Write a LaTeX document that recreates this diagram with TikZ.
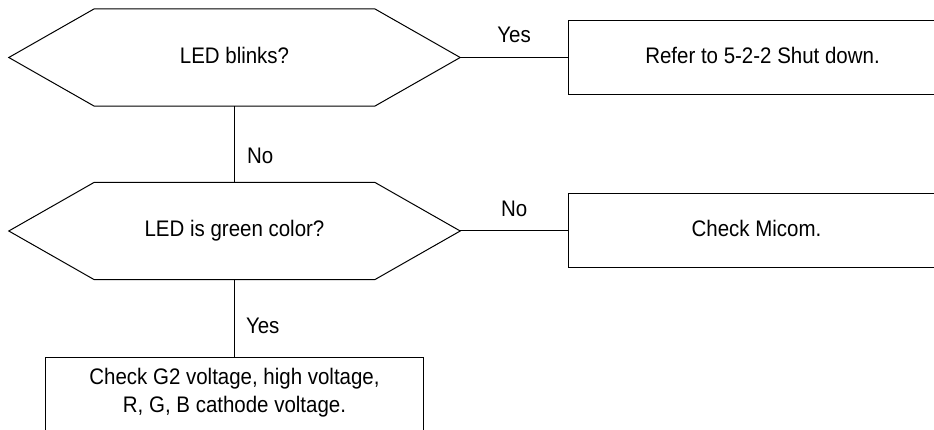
\documentclass[tikz,border=0pt]{standalone}
\usepackage{fontspec}
\setmainfont[FakeStretch=0.91]{Liberation Sans}
\begin{document}
\begin{tikzpicture}[x=1pt,y=-1pt,
  every node/.style={font=\fontsize{22.5}{28}\selectfont},
  ln/.style={line width=1pt, draw=black},
  dec/.style={minimum width=451pt, minimum height=97pt, inner sep=0pt, text height=16pt, text depth=4pt},
  boxn/.style={ln, minimum height=74pt, inner sep=0pt, text height=16pt, text depth=4pt},
  lab/.style={inner sep=0pt, text height=16pt, text depth=4pt}
]
\useasboundingbox (0,0) rectangle (934,430);
\clip (0,0) rectangle (934,430);

\node[dec] (d1) at (234.5,57.5) {LED blinks?};
\node[dec] (d2) at (234.5,231) {LED is green color?};
\foreach \n in {d1,d2}
  \draw[ln] (\n.west) -- ([xshift=85.5pt]\n.north west) -- ([xshift=-85.5pt]\n.north east)
     -- (\n.east) -- ([xshift=-85.5pt]\n.south east) -- ([xshift=85.5pt]\n.south west) -- cycle;

\node[boxn, anchor=west, minimum width=388pt] (b1) at (568,57.5) {Refer to 5-2-2 Shut down.};
\node[boxn, anchor=west, minimum width=376pt] (b2) at (568,231) {Check Micom.};

\node[anchor=north, align=center, minimum width=377pt, inner xsep=0pt, inner ysep=11pt] (b3) at (234.5,357)
  {Check G2 voltage, high voltage,\\R, G, B cathode voltage.};
\draw[ln] (b3.north west) rectangle ([yshift=-40pt]b3.south east);

\draw[ln] (d1.east) -- node[lab, above=10pt] {Yes} (b1.west);
\draw[ln] (d1.south) -- node[lab, right=12pt, pos=0.67] {No} (d2.north);
\draw[ln] (d2.east) -- node[lab, above=10pt] {No} (b2.west);
\draw[ln] (d2.south) -- node[lab, right=11pt, pos=0.62] {Yes} (b3.north);
\end{tikzpicture}
\end{document}
